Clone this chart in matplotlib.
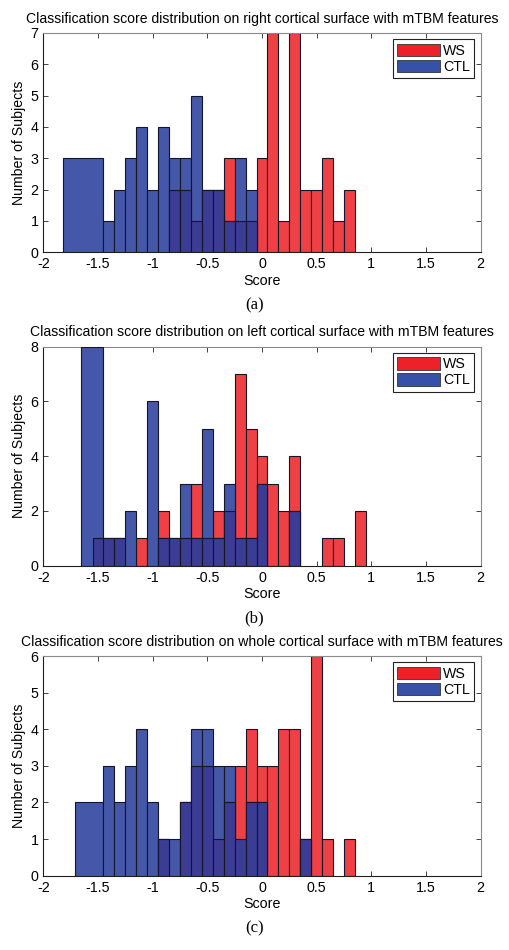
import numpy as np
import matplotlib
matplotlib.use("Agg")
import matplotlib.pyplot as plt
from matplotlib.patches import Patch

plt.rcParams['font.family'] = ['Liberation Sans', 'DejaVu Sans']

# ---------------- data ----------------
titles = [
    "Classification score distribution on right cortical surface with mTBM features",
    "Classification score distribution on left cortical surface with mTBM features",
    "Classification score distribution on whole cortical surface with mTBM features",
]
captions = ["(a)", "(b)", "(c)"]
y_max = [7, 8, 6]
y_ticks = [[0, 1, 2, 3, 4, 5, 6, 7], [0, 2, 4, 6, 8], [0, 1, 2, 3, 4, 5, 6]]
x_ticks = [-2, -1.5, -1, -0.5, 0, 0.5, 1, 1.5, 2]
x_ticklabels = ["-2", "-1.5", "-1", "-0.5", "0", "0.5", "1", "1.5", "2"]

# Panel (a) right hemisphere
ws_a_centers = [-0.8, -0.7, -0.6, -0.5, -0.4, -0.3, -0.2, -0.1, 0.0, 0.1, 0.2, 0.3, 0.4, 0.5, 0.6, 0.7, 0.8]
ws_a_counts = [2, 2, 1, 2, 2, 3, 1, 1, 3, 7, 1, 7, 2, 2, 3, 1, 2]
ctl_a_first_bin = [-1.823, -1.45]
ctl_a_first_count = 3
ctl_a_centers = [-1.4, -1.3, -1.2, -1.1, -1.0, -0.9, -0.8, -0.7, -0.6, -0.5, -0.4, -0.3, -0.2, -0.1]
ctl_a_counts = [1, 2, 3, 4, 2, 4, 3, 3, 5, 2, 2, 1, 3, 2]

# Panel (b) left hemisphere
ws_b_centers = [-1.5, -1.4, -1.3, -1.1, -0.9, -0.8, -0.7, -0.6, -0.5, -0.4, -0.3, -0.2, -0.1,
                0.0, 0.1, 0.2, 0.3, 0.6, 0.7, 0.9]
ws_b_counts = [1, 1, 1, 1, 2, 1, 1, 3, 1, 2, 2, 7, 5, 4, 3, 2, 4, 1, 1, 2]
ctl_b_first_bin = [-1.652, -1.45]
ctl_b_first_count = 8
ctl_b_centers = [-1.4, -1.3, -1.2, -1.0, -0.9, -0.8, -0.7, -0.6, -0.5, -0.4, -0.3, -0.2, -0.1, 0.0, 0.3]
ctl_b_counts = [1, 1, 2, 6, 1, 1, 3, 1, 5, 1, 3, 1, 1, 3, 2]

# Panel (c) whole cortex
ws_c_centers = [-0.9, -0.7, -0.6, -0.5, -0.4, -0.3, -0.2, -0.1, 0.0, 0.1, 0.2, 0.3, 0.4, 0.5, 0.6, 0.8]
ws_c_counts = [1, 2, 3, 3, 1, 2, 3, 4, 3, 3, 4, 4, 1, 6, 1, 1]
ctl_c_first_bin = [-1.713, -1.45]
ctl_c_first_count = 2
ctl_c_centers = [-1.4, -1.3, -1.2, -1.1, -1.0, -0.9, -0.8, -0.7, -0.6, -0.5, -0.4, -0.3, -0.2, -0.1, 0.0, 0.4]
ctl_c_counts = [3, 2, 3, 4, 2, 1, 1, 2, 4, 4, 3, 3, 1, 2, 2, 1]

panels = [
    (ws_a_centers, ws_a_counts, ctl_a_first_bin, ctl_a_first_count, ctl_a_centers, ctl_a_counts),
    (ws_b_centers, ws_b_counts, ctl_b_first_bin, ctl_b_first_count, ctl_b_centers, ctl_b_counts),
    (ws_c_centers, ws_c_counts, ctl_c_first_bin, ctl_c_first_count, ctl_c_centers, ctl_c_counts),
]

# ---------------- style ----------------
BIN_W = 0.1
RED = "#EF4046"
BLUE = "#4557A8"
DARK = "#3B3C94"
EDGE = "#15152a"
LEG_RED = "#EE2028"
LEG_BLUE = "#3552A8"

W, H = 509, 950
fig = plt.figure(figsize=(W / 100, H / 100), dpi=100)

axes_px = [(33.0, 252.3), (346.7, 565.7), (656.0, 875.7)]
left_px, right_px = 43.3, 480.7

for i, (ws_c, ws_n, first_bin, first_n, ctl_c, ctl_n) in enumerate(panels):
    top, bot = axes_px[i]
    ax = fig.add_axes([left_px / W, 1 - bot / H, (right_px - left_px) / W, (bot - top) / H])

    # WS (red) bars underneath
    ax.bar(ws_c, ws_n, width=BIN_W, color=RED, edgecolor=EDGE, linewidth=0.8, zorder=2)
    # CTL (blue) bars: wide first bin + regular bins
    ax.bar(first_bin[0], first_n, width=first_bin[1] - first_bin[0], align='edge',
           color=BLUE, edgecolor=EDGE, linewidth=0.8, zorder=3)
    ax.bar(ctl_c, ctl_n, width=BIN_W, color=BLUE, edgecolor=EDGE, linewidth=0.8, zorder=3)

    # overlap region (blue seen over red)
    ctl_lookup = {round(c, 2): n for c, n in zip(ctl_c, ctl_n)}
    ov_c, ov_n = [], []
    for c, n in zip(ws_c, ws_n):
        b = ctl_lookup.get(round(c, 2), 0)
        if first_bin[0] <= c <= first_bin[1]:
            b = first_n
        m = min(n, b)
        if m > 0:
            ov_c.append(c)
            ov_n.append(m)
    ax.bar(ov_c, ov_n, width=BIN_W, color=DARK, edgecolor=EDGE, linewidth=0.8, zorder=4)

    ax.set_xlim(-2, 2)
    ax.set_ylim(0, y_max[i])
    ax.set_xticks(x_ticks)
    ax.set_xticklabels(x_ticklabels)
    ax.set_yticks(y_ticks[i])
    ax.tick_params(direction='in', length=3.5, width=0.6, top=True, right=True,
                   labelsize=10.3, pad=3.5, colors='#222222', labelcolor='black')
    for s in ['left', 'bottom']:
        ax.spines[s].set_color('#202020')
        ax.spines[s].set_linewidth(0.8)
    for s in ['top', 'right']:
        ax.spines[s].set_color('#8a8a8a')
        ax.spines[s].set_linewidth(0.8)
    ax.set_xlabel("Score", fontsize=10.3, labelpad=2)
    ax.set_ylabel("Number of Subjects", fontsize=10.2, labelpad=3)
    ax.set_title(titles[i], fontsize=10.1, pad=7.5)

    handles = [Patch(facecolor=LEG_RED, edgecolor='#333333', linewidth=0.6),
               Patch(facecolor=LEG_BLUE, edgecolor='#333333', linewidth=0.6)]
    leg = ax.legend(handles, ["WS", "CTL"], loc='upper right', fontsize=10.2,
                    handlelength=3.0, handleheight=0.95, handletextpad=0.25,
                    borderpad=0.3, labelspacing=0.15, borderaxespad=0.45,
                    frameon=True, fancybox=False, framealpha=1)
    leg.get_frame().set_edgecolor('#222222')
    leg.get_frame().set_linewidth(0.8)

    fig.text(254.5 / W, 1 - (bot + 53) / H, captions[i], ha='center', va='center',
             fontsize=12, family=['Liberation Serif', 'DejaVu Serif'])

fig.savefig("out.png", dpi=100)
